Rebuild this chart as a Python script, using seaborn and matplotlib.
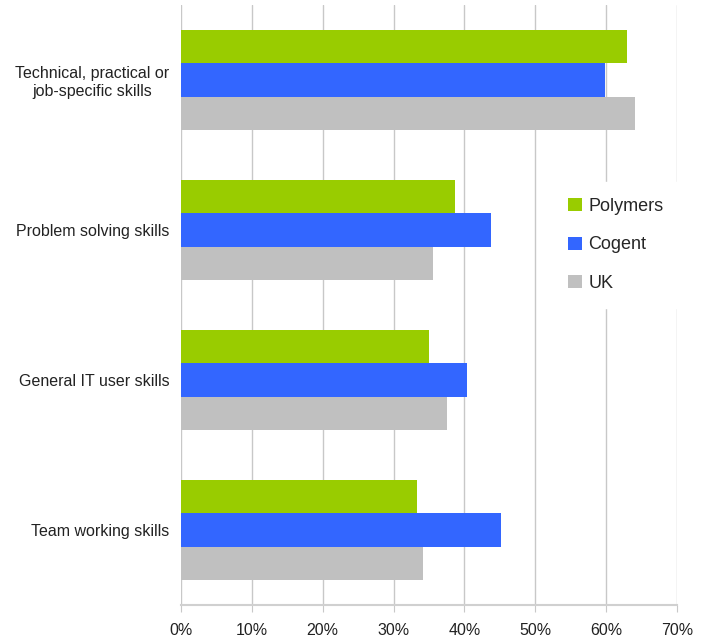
import matplotlib
matplotlib.use("Agg")
import matplotlib.pyplot as plt
from matplotlib.ticker import FuncFormatter
import seaborn as sns
import pandas as pd

# values (percent)
skills = ["Technical, practical or\njob-specific skills", "Problem solving skills",
          "General IT user skills", "Team working skills"]
series = ["Polymers", "Cogent", "UK"]
polymers = [63.0, 38.7, 35.0, 33.3]
cogent = [59.9, 43.8, 40.4, 45.2]
uk = [64.1, 35.6, 37.6, 34.2]
x_ticks = [0, 10, 20, 30, 40, 50, 60, 70]

colors = {"Polymers": "#99cc00", "Cogent": "#3366ff", "UK": "#c0c0c0"}

rows = []
for name, vals in zip(series, [polymers, cogent, uk]):
    for skill, v in zip(skills, vals):
        rows.append({"Skill": skill, "Series": name, "Value": v})
df = pd.DataFrame(rows)

sns.set_style("white")
plt.rcParams['font.family'] = ['Liberation Sans', 'DejaVu Sans']

fig = plt.figure(figsize=(7.07, 6.39), dpi=100)
ax = fig.add_axes([0.256, 0.0532, 0.7016, 0.939])

sns.barplot(data=df, x="Value", y="Skill", hue="Series", order=skills,
            hue_order=series, palette=colors, orient="h", width=0.667,
            saturation=1, ax=ax, errorbar=None, linewidth=0)

ax.set_xlim(0, 70)
ax.set_ylim(3.5, -0.5)
ax.set_xticks(x_ticks)
ax.xaxis.set_major_formatter(FuncFormatter(lambda v, p: f"{v:.0f}%"))
ax.set_axisbelow(True)
ax.grid(axis="x", color="#c8c8c8", linewidth=1)
ax.grid(axis="y", visible=False)

for side in ["left", "top", "right"]:
    ax.spines[side].set_visible(False)
ax.spines["bottom"].set_color("#d0d0d0")
ax.spines["bottom"].set_linewidth(1.5)

ax.tick_params(axis="x", bottom=True, length=5, color="#c8c8c8", labelsize=11.5,
               pad=8, labelcolor="#222222")
ax.tick_params(axis="y", left=False, labelsize=11.5, pad=5, labelcolor="#222222")
for lbl in ax.get_yticklabels():
    lbl.set_multialignment("center")

ax.set_xlabel("")
ax.set_ylabel("")

leg = ax.legend(loc="center left", bbox_to_anchor=(0.73, 0.60), frameon=True,
                facecolor="white", edgecolor="white", framealpha=1,
                fontsize=13, labelspacing=1.2, handlelength=0.75,
                handleheight=0.75, handletextpad=0.35, borderpad=0.9)
leg.set_zorder(10)

fig.savefig("out.png", dpi=100)
